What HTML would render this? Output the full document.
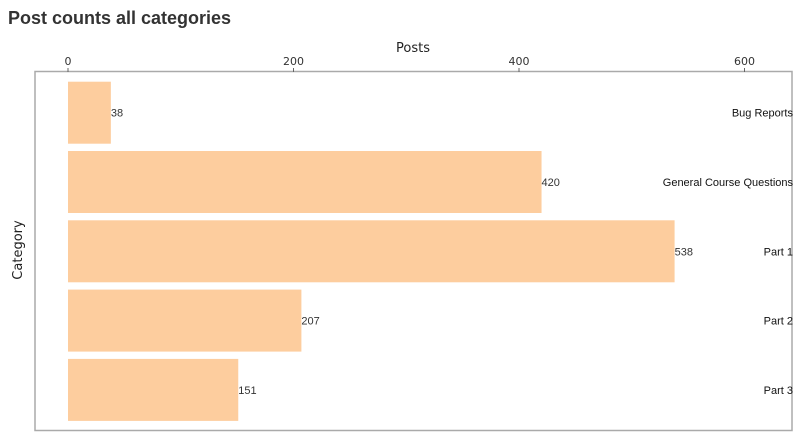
<!DOCTYPE html>
<html><head><meta charset="utf-8"><style>
body{margin:0;background:#fff;width:797px;height:438px;overflow:hidden;font-family:"Liberation Sans",sans-serif}
#title{position:absolute;left:8px;top:8px;font-size:18px;font-weight:bold;color:#333;margin:0}
</style></head><body>
<h1 id="title">Post counts all categories</h1>
<svg id="chart" width="797" height="438" style="position:absolute;left:0;top:0">
<rect x="35" y="71.5" width="757" height="359" fill="none" stroke="#aaa" stroke-width="1.5"/>
<text x="413" y="52" font-size="13" text-anchor="middle" fill="#222" font-family="DejaVu Sans, sans-serif">Posts</text>
<text x="22" y="250" font-size="13" text-anchor="middle" fill="#222" font-family="DejaVu Sans, sans-serif" transform="rotate(-90 22 250)">Category</text>
<g id="ticks"></g><g id="bars"></g>
</svg>
<script>
const categories=["Bug Reports","General Course Questions","Part 1","Part 2","Part 3"];
const postCounts=[38,420,538,207,151];
const tickValues=[0,200,400,600];
const x=v=>68+v*1.1275;
const y=i=>78.2+i*69.3;
const ns="http://www.w3.org/2000/svg";
const tg=document.getElementById('ticks'),bg=document.getElementById('bars');
function mk(tag,attrs,txt){const e=document.createElementNS(ns,tag);for(const k in attrs)e.setAttribute(k,attrs[k]);if(txt!=null)e.textContent=txt;return e;}
tickValues.forEach(v=>{
 const l=mk('line',{x1:x(v),x2:x(v),y1:68,y2:72,stroke:'#666'});
 
 
 tg.appendChild(l);
 const t=mk('text',{x:x(v),y:65,'font-size':11,'text-anchor':'middle',fill:'#333','font-family':'DejaVu Sans, sans-serif'},v);
 
 
 tg.appendChild(t);
});
categories.forEach((c,i)=>{
 const top=y(i)+3.5,h=62;
 const r=mk('rect',{x:x(0),y:top,width:x(postCounts[i])-x(0),height:h,fill:'#fdcd9e'});
 
 
 bg.appendChild(r);
 const vl=mk('text',{x:x(postCounts[i]),y:top+h/2+4,'font-size':11,fill:'#333'},postCounts[i]);
 
 
 bg.appendChild(vl);
 const cl=mk('text',{x:793,y:top+h/2+4,'font-size':11,fill:'#111','text-anchor':'end'},c);
 
 
 bg.appendChild(cl);
});
</script>
</body></html>
